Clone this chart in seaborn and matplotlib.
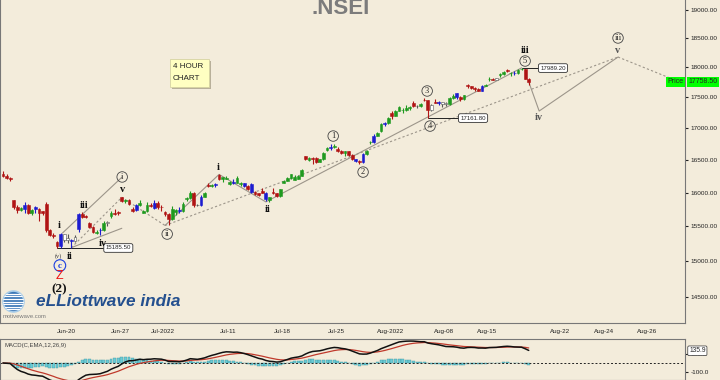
import numpy as np
import pandas as pd
import seaborn as sns
import matplotlib.pyplot as plt
from matplotlib.patches import Rectangle, Circle
from matplotlib.transforms import blended_transform_factory

# ^NSEI 4 hour bars (3 per session), Jun 10 - Aug 19 2022
bar_open = [16284, 16250, 16215, 15886, 15790, 15740, 15750, 15810, 15700, 15788,
            15760, 15720, 15832, 15440, 15375, 15272, 15210, 15380, 15334, 15300,
            15280, 15455, 15680, 15640, 15545, 15490, 15400, 15451, 15440, 15540,
            15657, 15700, 15710, 15926, 15880, 15890, 15757, 15740, 15810, 15701,
            15720, 15820, 15774, 15850, 15790, 15703, 15680, 15600, 15710, 15740,
            15720, 15909, 15920, 16000, 15818, 15810, 15940, 16113, 16095, 16120,
            16273, 16200, 16210, 16136, 16160, 16150, 16126, 16140, 16100, 16130,
            16010, 15990, 16019, 16000, 15890, 16011, 15990, 15950, 16151, 16180,
            16220, 16188, 16210, 16250, 16562, 16500, 16530, 16523, 16470, 16510,
            16661, 16680, 16700, 16662, 16640, 16600, 16632, 16580, 16510, 16475,
            16460, 16590, 16774, 16780, 16880, 16953, 17060, 17080, 17244, 17200,
            17280, 17288, 17300, 17330, 17403, 17360, 17350, 17463, 17450, 17300,
            17423, 17410, 17420, 17401, 17390, 17490, 17566, 17500, 17470, 17700,
            17680, 17660, 17640, 17610, 17690, 17797, 17810, 17790, 17868, 17890,
            17950, 17898, 17910, 17900, 17966, 17975, 17810]
bar_high = [16325, 16280, 16230, 15886, 15810, 15790, 15858, 15830, 15760, 15800,
            15770, 15730, 15863, 15460, 15400, 15290, 15400, 15390, 15382, 15320,
            15370, 15700, 15708, 15660, 15565, 15500, 15440, 15470, 15577, 15570,
            15720, 15749, 15720, 15927, 15900, 15900, 15790, 15830, 15893, 15740,
            15861, 15840, 15891, 15870, 15810, 15730, 15700, 15793, 15760, 15780,
            15852, 15940, 16025, 16010, 15830, 15960, 16011, 16150, 16130, 16140,
            16275, 16240, 16245, 16180, 16200, 16248, 16158, 16150, 16110, 16141,
            16030, 16000, 16070, 16010, 15940, 16066, 16000, 16060, 16190, 16230,
            16287, 16260, 16270, 16360, 16562, 16540, 16545, 16540, 16520, 16627,
            16700, 16753, 16740, 16706, 16660, 16640, 16636, 16590, 16520, 16490,
            16600, 16653, 16800, 16900, 16944, 17080, 17100, 17172, 17270, 17300,
            17356, 17320, 17367, 17360, 17433, 17380, 17400, 17490, 17460, 17390,
            17474, 17440, 17430, 17420, 17500, 17548, 17566, 17520, 17540, 17720,
            17690, 17670, 17650, 17700, 17724, 17839, 17830, 17830, 17900, 17940,
            17965, 17920, 17940, 17969, 17992, 17980, 17830]
bar_low = [16230, 16200, 16173, 15760, 15700, 15725, 15700, 15680, 15659, 15690,
           15578, 15660, 15420, 15360, 15335, 15183, 15190, 15270, 15250, 15191,
           15270, 15419, 15620, 15615, 15470, 15400, 15385, 15368, 15430, 15500,
           15619, 15660, 15670, 15860, 15840, 15815, 15710, 15720, 15800, 15688,
           15710, 15780, 15760, 15760, 15728, 15650, 15511, 15590, 15661, 15700,
           15715, 15880, 15900, 15785, 15800, 15800, 15930, 16081, 16085, 16090,
           16190, 16157, 16200, 16115, 16130, 16140, 16100, 16080, 16031, 16000,
           15960, 15951, 15990, 15880, 15859, 15980, 15928, 15940, 16142, 16170,
           16210, 16187, 16200, 16245, 16490, 16480, 16438, 16446, 16460, 16500,
           16640, 16650, 16690, 16620, 16590, 16564, 16560, 16500, 16463, 16438,
           16450, 16580, 16751, 16770, 16870, 16946, 17030, 17070, 17154, 17190,
           17270, 17238, 17280, 17300, 17340, 17326, 17340, 17440, 17161, 17280,
           17400, 17380, 17348, 17359, 17380, 17480, 17470, 17442, 17460, 17660,
           17640, 17609, 17597, 17600, 17680, 17765, 17780, 17785, 17833, 17880,
           17920, 17861, 17880, 17890, 17950, 17800, 17710]
bar_close = [16250, 16215, 16202, 15790, 15740, 15774, 15810, 15700, 15732, 15760,
             15700, 15692, 15440, 15375, 15360, 15210, 15380, 15294, 15300, 15280,
             15350, 15680, 15640, 15638, 15490, 15420, 15413, 15440, 15540, 15557,
             15700, 15680, 15699, 15880, 15890, 15832, 15730, 15810, 15850, 15720,
             15820, 15799, 15850, 15790, 15780, 15680, 15600, 15752, 15740, 15720,
             15835, 15920, 16000, 15810, 15810, 15940, 15990, 16095, 16120, 16133,
             16200, 16230, 16220, 16160, 16150, 16216, 16140, 16100, 16058, 16010,
             15980, 15967, 16000, 15900, 15938, 15990, 15950, 16049, 16180, 16220,
             16279, 16240, 16250, 16340, 16510, 16530, 16520, 16470, 16510, 16605,
             16680, 16700, 16719, 16640, 16600, 16631, 16580, 16510, 16484, 16460,
             16590, 16642, 16780, 16880, 16930, 17060, 17080, 17158, 17200, 17280,
             17340, 17300, 17330, 17345, 17360, 17350, 17388, 17450, 17300, 17382,
             17410, 17420, 17398, 17390, 17490, 17525, 17500, 17470, 17535, 17680,
             17650, 17640, 17610, 17690, 17698, 17810, 17790, 17825, 17890, 17930,
             17944, 17910, 17900, 17956, 17975, 17810, 17758]
blue_bars = [6, 9, 16, 19, 21, 27, 37, 42, 49, 55, 59, 64, 67, 69, 73, 91, 98,
             100, 103, 106, 121, 126, 133, 142]
hollow_bars = [17, 18, 20, 29, 54, 115, 119, 122, 123, 137]

# x axis labels (bar positions)
tick_lab = ['Jun-20', 'Jun-27', 'Jul-2022', 'Jul-11', 'Jul-18', 'Jul-25',
            'Aug-2022', 'Aug-08', 'Aug-15', 'Aug-22', 'Aug-24', 'Aug-26']
tick_pos = [17.5, 32.5, 44.5, 62.5, 77.5, 92.5, 107.5, 122.5, 134.5, 154.7, 166.9, 178.9]
price_ticks = [14500, 15000, 15500, 16000, 16500, 17000, 17500, 18000, 18500, 19000]

# wave count lines (bar, price)
up_chan_k, up_chan_p = [16.5, 33.1], [15400, 16236]
low_chan_k, low_chan_p = [19, 33], [15191, 15470]
trend_k, trend_p = [45, 60, 73, 144], [15511, 16275, 15859, 17992]
proj_k, proj_p = [146, 148.9, 170.8], [17758, 17276, 18177]
sub_k, sub_p = [19, 33, 45], [15191, 15927, 15511]
base_k, base_p = [45, 170.8], [15511, 18177]
tail_k, tail_p = [170.8, 186.5], [18177, 17790]

# wave labels
roman_txt = ['i', 'ii', 'iii', 'iv', 'v', 'i', 'ii', 'iii', 'iv', 'v']
roman_k = [15.6, 18.6, 22.5, 27.8, 33.3, 59.7, 73.6, 145, 148.9, 170.8]
roman_p = [15504, 15058, 15812, 15257, 16038, 16389, 15740, 18297, 17163, 18297]
roman_col = ['#111'] * 8 + ['#555', '#555']
circ_txt = ['i', 'ii', 'iii', '1', '2', '3', '4', '5']
circ_k = [33.1, 45.6, 170.8, 91.7, 100, 117.8, 118.6, 145]
circ_p = [16236, 15386, 18506, 16874, 16311, 17605, 17033, 18109]

# price markers
mark_val = [15185.50, 17161.80, 17989.20]
mark_k0 = [15, 118, 144]
mark_k1 = [28.5, 127, 149.2]
last_price = 17758.50
macd_now = 135.9

BG = '#f3ecdb'
UP, DN, BL = '#1f9a1f', '#b01414', '#1c1cd0'

sns.set_style('white')
plt.rcParams['font.family'] = ['Liberation Sans', 'DejaVu Sans']

o = np.array(bar_open, float)
h = np.array(bar_high, float)
l = np.array(bar_low, float)
c = np.array(bar_close, float)
k = np.arange(len(c))

col = np.where(c >= o, UP, DN).astype(object)
col[blue_bars] = BL
face = col.copy()
edge = col.copy()
face[hollow_bars] = 'white'
edge[hollow_bars] = '#555555'
col[hollow_bars] = '#555555'

fig = plt.figure(figsize=(7.2, 3.8), dpi=100, facecolor=BG)
ax = fig.add_axes([0, 57 / 380, 685 / 720, 323 / 380], facecolor=BG)
mx = fig.add_axes([0, 0, 685 / 720, 41 / 380], facecolor=BG)

ax.set_yscale('log')
ax.set_xlim(-0.83, 189.4)
ax.set_ylim(14150, 19180)

# candles
ax.vlines(k, l, h, colors=list(col), lw=0.8, zorder=3)
body_lo = np.minimum(o, c)
body_h = np.maximum(np.abs(c - o), 5)
ax.bar(k, body_h, bottom=body_lo, width=0.78, color=list(face),
       edgecolor=list(edge), linewidth=0.4, zorder=4)

# wave lines
gray = '#9c958a'
for xs, ys in [(up_chan_k, up_chan_p), (low_chan_k, low_chan_p),
               (trend_k, trend_p), (proj_k, proj_p)]:
    ax.plot(xs, ys, color=gray, lw=0.8, zorder=2)
for xs, ys in [(sub_k, sub_p), (base_k, base_p), (tail_k, tail_p)]:
    ax.plot(xs, ys, color=gray, lw=0.8, ls=(0, (2, 2)), zorder=2)

for v, a, b in zip(mark_val, mark_k0, mark_k1):
    ax.plot([a, b], [v, v], color='#222', lw=0.7, zorder=2)
    ax.text(b, v, f'{v:.2f}', ha='left', va='center', fontsize=4.4, zorder=6,
            bbox=dict(boxstyle='round,pad=0.3', fc='white', ec='#333', lw=0.6))

serif = ['Liberation Serif', 'DejaVu Serif']
for t, x, y, cc in zip(roman_txt, roman_k, roman_p, roman_col):
    ax.text(x, y, t, ha='center', va='center', fontsize=7.5, family=serif,
            weight='bold', color=cc, zorder=6)
for t, x, y in zip(circ_txt, circ_k, circ_p):
    ax.text(x, y, t, ha='center', va='center', fontsize=6, family=serif, color='#222',
            zorder=6, bbox=dict(boxstyle='circle,pad=0.15', fc='none', ec='#444', lw=0.6))

ax.text(15.3, 15077, '(v)', ha='center', va='center', fontsize=4.5, family=serif, color='#333')
ax.text(15.8, 14937, 'c', ha='center', va='center', fontsize=6.5, family=serif, color='#1b3fe0',
        weight='bold', bbox=dict(boxstyle='circle,pad=0.2', fc='none', ec='#1b3fe0', lw=0.8))
ax.text(15.6, 14784, 'Z', ha='center', va='center', fontsize=9, color='#ee1111')
ax.text(15.6, 14610, '(2)', ha='center', va='center', fontsize=9.5, family=serif,
        weight='bold', color='#111')

# right price axis
ax.yaxis.tick_right()
ax.set_yticks(price_ticks, [f'{v:.2f}' for v in price_ticks])
ax.yaxis.set_minor_locator(plt.NullLocator())
ax.tick_params(axis='y', labelsize=4.6, length=2.5, pad=1.5, colors='#222')
ax.set_xticks(tick_pos, tick_lab)
ax.tick_params(axis='x', labelsize=4.5, length=3, pad=1, colors='#222')
for s in ['left', 'bottom', 'right']:
    ax.spines[s].set_color('#777')
    ax.spines[s].set_linewidth(0.8)
ax.spines['top'].set_visible(False)

tr = blended_transform_factory(ax.transAxes, ax.transData)
ax.text(0.998, last_price, 'Price', transform=tr, ha='right', va='center', fontsize=5,
        bbox=dict(boxstyle='square,pad=0.2', fc='#00ff00', ec='none'), zorder=7)
ax.text(1.005, last_price, f'{last_price:.2f}', transform=tr, ha='left', va='center',
        fontsize=5, clip_on=False,
        bbox=dict(boxstyle='square,pad=0.2', fc='#00ff00', ec='none'), zorder=7)

# MACD(12, 26, 9) from the closes
cs = pd.Series(c)
macd = cs.ewm(span=12, adjust=False).mean() - cs.ewm(span=26, adjust=False).mean()
sig = macd.ewm(span=9, adjust=False).mean()
mdf = pd.DataFrame({'k': k, 'macd': macd, 'sig': sig, 'hist': macd - sig})

mx.bar(mdf['k'], mdf['hist'], width=0.8, color='#6ccbd4', edgecolor='#3f9aa5', linewidth=0.3)
mx.axhline(0, color='#222', lw=0.7, ls=(0, (2, 2)))
sns.lineplot(data=mdf, x='k', y='sig', ax=mx, color='#c0392b', lw=0.9)
sns.lineplot(data=mdf, x='k', y='macd', ax=mx, color='#111', lw=1.1)
mx.set_xlim(-0.83, 189.4)
mx.set_ylim(-189, 267)
mx.set_xlabel('')
mx.set_ylabel('')
mx.set_xticks([])
mx.yaxis.tick_right()
mx.set_yticks([-100, 100], ['-100.0', '100.0'])
mx.tick_params(axis='y', labelsize=4.6, length=2.5, pad=1.5, colors='#222')
for s in mx.spines.values():
    s.set_color('#777')
    s.set_linewidth(0.8)
mx.text(0.006, 0.8, 'MACD(C,EMA,12,26,9)', transform=mx.transAxes, fontsize=4.3, color='#444')
mtr = blended_transform_factory(mx.transAxes, mx.transData)
mx.text(1.006, macd_now, f'{macd_now}', transform=mtr, ha='left', va='center', fontsize=4.8,
        clip_on=False, zorder=8,
        bbox=dict(boxstyle='round,pad=0.2', fc='white', ec='#333', lw=0.5))

# header, chart note and logo
fig.text(341 / 720, 1 - 13.5 / 380, '.NSEI', ha='center', va='baseline', fontsize=16,
         weight='bold', color='#7c7c7c')
fig.add_artist(Rectangle((172 / 720, 1 - 89 / 380), 39 / 720, 28 / 380,
                         transform=fig.transFigure, fc='#b8b09a', ec='none'))
fig.add_artist(Rectangle((170 / 720, 1 - 87 / 380), 39 / 720, 28 / 380,
                         transform=fig.transFigure, fc='#ffffc2', ec='#d6d3a2', lw=0.6))
fig.text(173 / 720, 1 - 67 / 380, '4 HOUR', fontsize=5.8, va='center', color='#222')
fig.text(173 / 720, 1 - 78 / 380, 'CHART', fontsize=5.8, va='center', color='#222')

gx = fig.add_axes([2 / 720, 1 - 313 / 380, 23 / 720, 23 / 380])
gx.set_xlim(-1.1, 1.1)
gx.set_ylim(-1.1, 1.1)
gx.axis('off')
globe = Circle((0, 0), 1, fc='#3c78b6', ec='#a8cce8', lw=1.2)
gx.add_patch(globe)
for yy in np.linspace(-0.75, 0.75, 7):
    ln, = gx.plot([-1, 1], [yy, yy], color='white', lw=0.9)
    ln.set_clip_path(globe)
fig.text(36 / 720, 1 - 301 / 380, 'eLLiottwave india', fontsize=12.4, weight='heavy',
         style='italic', color='#24508f', va='center')
fig.text(3 / 720, 1 - 316 / 380, 'motivewave.com', fontsize=4.2, color='#777', va='center')

fig.savefig('out.png', dpi=100, facecolor=BG)
